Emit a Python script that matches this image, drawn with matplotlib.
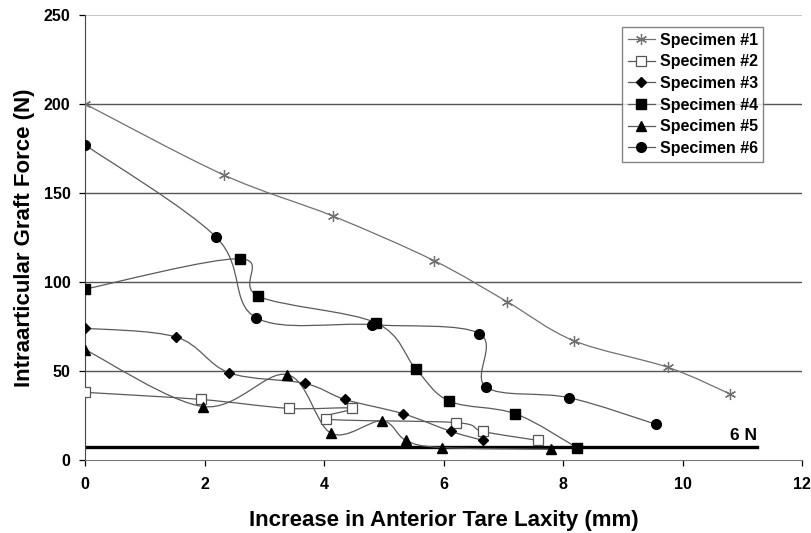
import matplotlib
matplotlib.use("Agg")
import matplotlib.pyplot as plt
from matplotlib.path import Path
from matplotlib.patches import PathPatch
from matplotlib.lines import Line2D

plt.rcParams['font.family'] = ['Liberation Sans', 'DejaVu Sans']
plt.rcParams['font.weight'] = 'bold'

# valeurs
spec1_x = [0, 2.33, 4.15, 5.84, 7.06, 8.18, 9.76, 10.8]
spec1_y = [200, 160, 137, 112, 89, 67, 52, 37]
spec2_x = [0, 1.94, 3.41, 4.47, 4.03, 6.21, 6.66, 7.58]
spec2_y = [38, 34, 29, 29, 23, 21, 16, 11]
spec3_x = [0, 1.53, 2.41, 3.68, 4.35, 5.32, 6.13, 6.66]
spec3_y = [74, 69, 49, 43, 34, 26, 16, 11]
spec4_x = [0, 2.59, 2.9, 4.87, 5.54, 6.1, 7.2, 8.23]
spec4_y = [96, 113, 92, 77, 51, 33, 26, 7]
spec5_x = [0, 1.98, 3.38, 4.12, 4.97, 5.37, 5.97, 7.8]
spec5_y = [62, 30, 48, 15, 22, 11, 7, 6]
spec6_x = [0, 2.2, 2.86, 4.8, 6.6, 6.71, 8.1, 9.56]
spec6_y = [177, 125, 80, 76, 71, 41, 35, 20]

labels = ['Specimen #1', 'Specimen #2', 'Specimen #3',
          'Specimen #4', 'Specimen #5', 'Specimen #6']

threshold_y = 7.3
threshold_x = [0.04, 11.25]

x_ticks = [0, 2, 4, 6, 8, 10, 12]
y_ticks = [0, 50, 100, 150, 200, 250]

LINE_GRAY = '#5a5a5a'


# courbe lissee facon Excel (bezier cubique)
def smooth_path(xs, ys):
    pts = list(zip(xs, ys))
    n = len(pts)
    verts = [pts[0]]
    codes = [Path.MOVETO]
    for i in range(n - 1):
        p0 = pts[i - 1] if i > 0 else pts[i]
        p1 = pts[i]
        p2 = pts[i + 1]
        p3 = pts[i + 2] if i + 2 < n else pts[i + 1]
        c1 = (p1[0] + (p2[0] - p0[0]) / 6.0, p1[1] + (p2[1] - p0[1]) / 6.0)
        c2 = (p2[0] - (p3[0] - p1[0]) / 6.0, p2[1] - (p3[1] - p1[1]) / 6.0)
        verts += [c1, c2, p2]
        codes += [Path.CURVE4, Path.CURVE4, Path.CURVE4]
    return Path(verts, codes)


fig = plt.figure(figsize=(8.12, 5.33), dpi=100)
ax = fig.add_axes([0.1047, 0.137, 0.883, 0.835])

series = [
    (spec1_x, spec1_y, dict(marker=(6, 2, 0), ms=8, mec='#707070', mfc='none', mew=0.9), '#707070'),
    (spec2_x, spec2_y, dict(marker='s', ms=7.5, mec='#555555', mfc='white', mew=0.9), LINE_GRAY),
    (spec3_x, spec3_y, dict(marker='D', ms=5, mec='black', mfc='black'), LINE_GRAY),
    (spec4_x, spec4_y, dict(marker='s', ms=7.5, mec='black', mfc='black'), LINE_GRAY),
    (spec5_x, spec5_y, dict(marker='^', ms=7.5, mec='black', mfc='black'), LINE_GRAY),
    (spec6_x, spec6_y, dict(marker='o', ms=7, mec='black', mfc='black'), LINE_GRAY),
]

handles = []
for (xs, ys, mk, lc), lab in zip(series, labels):
    ax.add_patch(PathPatch(smooth_path(xs, ys), fill=False, edgecolor=lc, lw=0.9, zorder=3))
    ax.plot(xs, ys, ls='none', zorder=4, **mk)
    handles.append(Line2D([], [], color=lc, lw=0.9, **mk))

# ligne 6 N
ax.plot(threshold_x, [threshold_y, threshold_y], color='black', lw=2.4, zorder=2)
ax.text(threshold_x[1], 9.5, '6 N', ha='right', va='bottom', fontsize=12.5, fontweight='bold')

ax.set_xlim(0, 12)
ax.set_ylim(0, 250)
ax.set_xticks(x_ticks)
ax.set_yticks(y_ticks)
ax.tick_params(axis='both', direction='out', length=4.5, width=0.9, labelsize=11.5, colors='black')
ax.tick_params(axis='x', pad=8)
ax.tick_params(axis='y', pad=6)

for y in y_ticks[1:-1]:
    ax.axhline(y, color='#555555', lw=1.0, zorder=1)
ax.axhline(250, color='#bbbbbb', lw=1.2, zorder=1)

ax.spines['top'].set_visible(False)
ax.spines['right'].set_visible(False)
ax.spines['left'].set_color('#444444')
ax.spines['bottom'].set_color('#777777')

ax.set_xlabel('Increase in Anterior Tare Laxity (mm)', fontsize=16, fontweight='bold', labelpad=13)
ax.set_ylabel('Intraarticular Graft Force (N)', fontsize=16, fontweight='bold', labelpad=6)

leg = ax.legend(handles, labels, loc='upper left', bbox_to_anchor=(0.749, 0.973),
                fontsize=11.5, frameon=True, fancybox=False, edgecolor='#666666',
                handlelength=1.7, handletextpad=0.3, labelspacing=0.42,
                borderpad=0.35, borderaxespad=0)
leg.get_frame().set_linewidth(1.0)
leg.set_zorder(10)

fig.savefig('out.png', dpi=100)
